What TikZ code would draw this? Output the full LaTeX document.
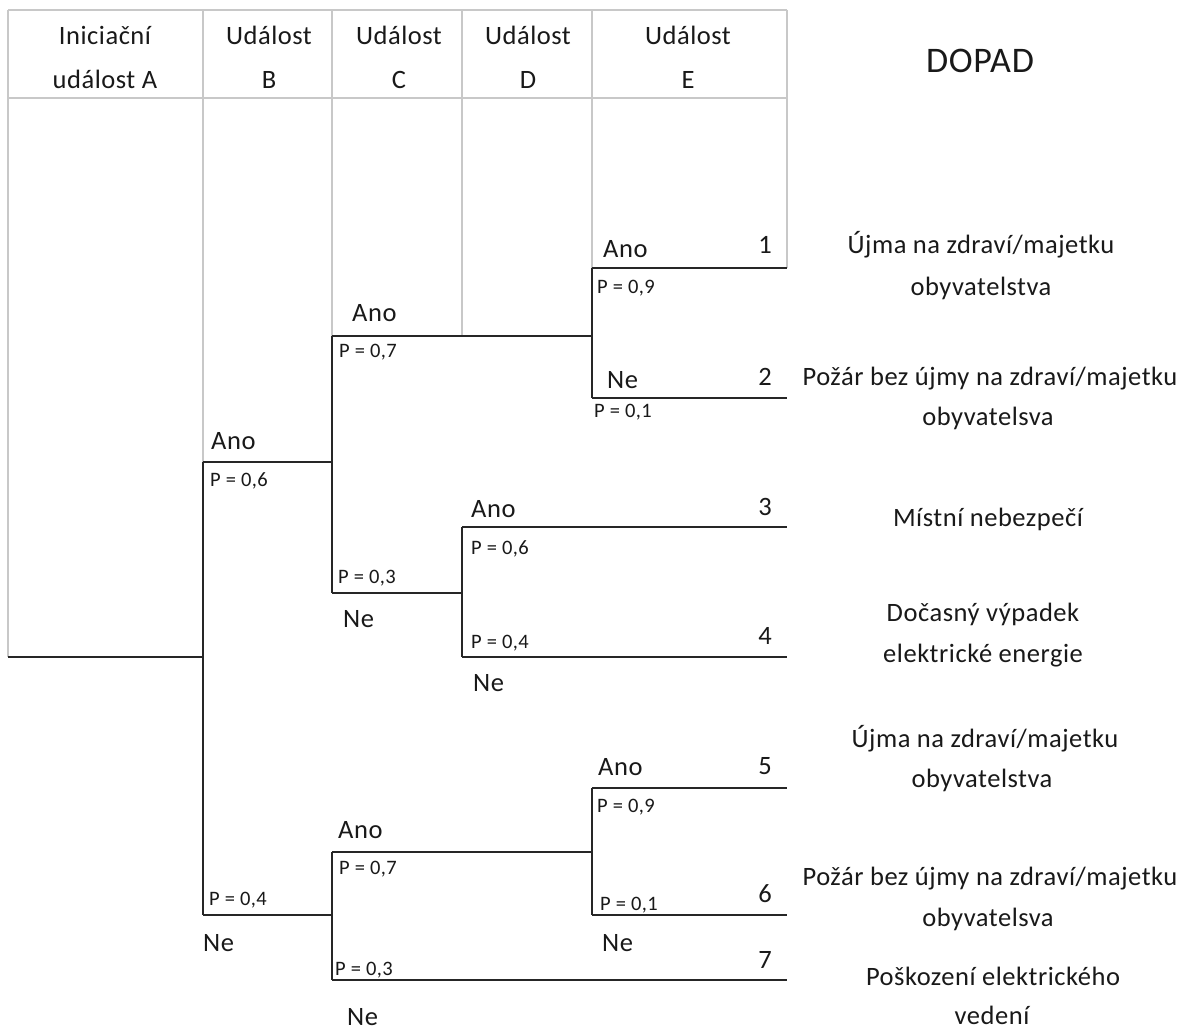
\documentclass[tikz,border=0pt]{standalone}
\usepackage{fontspec}
\setmainfont{Carlito}[LetterSpace=2]
\begin{document}
\begin{tikzpicture}[x=1pt,y=-1pt,
  grid/.style={draw=gridgray,line width=1.6pt},
  tree/.style={draw=black!85,line width=1.8pt},
  big/.style={inner sep=0pt,font=\fontsize{26.5}{30}\selectfont,text=black!90},
  small/.style={inner sep=0pt,font=\fontsize{20.5}{22}\selectfont,text=black!90},
  huge/.style={inner sep=0pt,font=\fontsize{36}{40}\selectfont,text=black!90}]
\definecolor{gridgray}{RGB}{200,200,200}
\useasboundingbox[fill=white] (0,0) rectangle (1179,1030);
% grid coordinates
\coordinate (g1) at (8,10);   \coordinate (g2) at (787,10);
\coordinate (h1) at (8,98);   \coordinate (h2) at (787,98);
\coordinate (cB) at (203,10); \coordinate (cC) at (332,10);
\coordinate (cD) at (462,10); \coordinate (cE) at (592,10);
% tree coordinates
\coordinate (A0) at (8,657);   \coordinate (A1) at (203,657);
\coordinate (Bt) at (203,462); \coordinate (Bb) at (203,915);
\coordinate (BA) at (332,462); \coordinate (BN) at (332,915);
\coordinate (Ct) at (332,336); \coordinate (Cb) at (332,593);
\coordinate (CA) at (592,336); \coordinate (CN) at (462,593);
\coordinate (Et) at (592,268); \coordinate (Eb) at (592,398);
\coordinate (E1) at (787,268); \coordinate (E2) at (787,398);
\coordinate (Dt) at (462,527); \coordinate (Db) at (462,657);
\coordinate (E3) at (787,527); \coordinate (E4) at (787,657);
\coordinate (Lt) at (332,852); \coordinate (Lb) at (332,980);
\coordinate (LA) at (592,852);
\coordinate (Mt) at (592,788); \coordinate (Mb) at (592,915);
\coordinate (E5) at (787,788); \coordinate (E6) at (787,915);
\coordinate (E7) at (787,980);
\coordinate (dD) at (462,336);
% grey grid
\draw[grid] (g1) -- (g2);
\draw[grid] (h1) -- (h2);
\draw[grid] (g1) -- (A0);
\draw[grid] (cB) -- (Bt);
\draw[grid] (cC) -- (Ct);
\draw[grid] (cD) -- (dD);
\draw[grid] (cE) -- (Et);
\draw[grid] (g2) -- (E1);
% tree
\draw[tree] (A0) -- (A1);
\draw[tree] (Bt) -- (Bb);
\draw[tree] (Bt) -- (BA);
\draw[tree] (Bb) -- (BN);
\draw[tree] (Ct) -- (Cb);
\draw[tree] (Ct) -- (CA);
\draw[tree] (Cb) -- (CN);
\draw[tree] (Et) -- (Eb);
\draw[tree] (Et) -- (E1);
\draw[tree] (Eb) -- (E2);
\draw[tree] (Dt) -- (Db);
\draw[tree] (Dt) -- (E3);
\draw[tree] (Db) -- (E4);
\draw[tree] (Lt) -- (Lb);
\draw[tree] (Lt) -- (LA);
\draw[tree] (Lb) -- (E7);
\draw[tree] (Mt) -- (Mb);
\draw[tree] (Mt) -- (E5);
\draw[tree] (Mb) -- (E6);
% headers
\node[big,anchor=base] (hA1) at (105,45) {Iniciační};
\node[big,anchor=base] (hA2) at (105,89) {událost A};
\node[big,anchor=base] (hB1) at (269,45) {Událost};
\node[big,anchor=base] (hB2) at (269,89) {B};
\node[big,anchor=base] (hC1) at (399,45) {Událost};
\node[big,anchor=base] (hC2) at (399,89) {C};
\node[big,anchor=base] (hD1) at (528,45) {Událost};
\node[big,anchor=base] (hD2) at (528,89) {D};
\node[big,anchor=base] (hE1) at (688,45) {Událost};
\node[big,anchor=base] (hE2) at (688,89) {E};
\node[huge,anchor=base] (dop) at (980,73) {DOPAD};
% branch labels
\node[big,anchor=base west] (l1) at (211,449) {Ano};
\node[small,anchor=base west] (p1) at (210,486) {P = 0,6};
\node[small,anchor=base west] (p2) at (209,905) {P = 0,4};
\node[big,anchor=base west] (l2) at (203,951) {Ne};
\node[big,anchor=base west] (l3) at (352,321) {Ano};
\node[small,anchor=base west] (p3) at (339,357) {P = 0,7};
\node[small,anchor=base west] (p4) at (338,583) {P = 0,3};
\node[big,anchor=base west] (l4) at (343,627) {Ne};
\node[big,anchor=base west] (l5) at (471,517) {Ano};
\node[small,anchor=base west] (p5) at (471,554) {P = 0,6};
\node[small,anchor=base west] (p6) at (471,648) {P = 0,4};
\node[big,anchor=base west] (l6) at (473,691) {Ne};
\node[big,anchor=base west] (l7) at (603,258) {Ano};
\node[small,anchor=base west] (p7) at (597,293) {P = 0,9};
\node[big,anchor=base west] (l8) at (607,388) {Ne};
\node[small,anchor=base west] (p8) at (594,417) {P = 0,1};
\node[big,anchor=base west] (l9) at (338,838) {Ano};
\node[small,anchor=base west] (p9) at (339,874) {P = 0,7};
\node[small,anchor=base west] (p10) at (335,975) {P = 0,3};
\node[big,anchor=base west] (l10) at (347,1025) {Ne};
\node[big,anchor=base west] (l11) at (598,775) {Ano};
\node[small,anchor=base west] (p11) at (597,812) {P = 0,9};
\node[small,anchor=base west] (p12) at (600,910) {P = 0,1};
\node[big,anchor=base west] (l12) at (602,951) {Ne};
% outcome numbers
\node[big,anchor=base east] (n1) at (772,254) {1};
\node[big,anchor=base east] (n2) at (772,385) {2};
\node[big,anchor=base east] (n3) at (772,515) {3};
\node[big,anchor=base east] (n4) at (772,644) {4};
\node[big,anchor=base east] (n5) at (772,774) {5};
\node[big,anchor=base east] (n6) at (772,902) {6};
\node[big,anchor=base east] (n7) at (772,968) {7};
% outcomes
\node[big,anchor=base] (o1a) at (981,254) {Újma na zdraví/majetku};
\node[big,anchor=base] (o1b) at (981,295) {obyvatelstva};
\node[big,anchor=base] (o2a) at (990,385) {Požár bez újmy na zdraví/majetku};
\node[big,anchor=base] (o2b) at (988,425) {obyvatelsva};
\node[big,anchor=base] (o3) at (988,526) {Místní nebezpečí};
\node[big,anchor=base] (o4a) at (983,621) {Dočasný výpadek};
\node[big,anchor=base] (o4b) at (983,662) {elektrické energie};
\node[big,anchor=base] (o5a) at (985,747) {Újma na zdraví/majetku};
\node[big,anchor=base] (o5b) at (982,787) {obyvatelstva};
\node[big,anchor=base] (o6a) at (990,885) {Požár bez újmy na zdraví/majetku};
\node[big,anchor=base] (o6b) at (988,926) {obyvatelsva};
\node[big,anchor=base] (o7a) at (993,985) {Poškození elektrického};
\node[big,anchor=base] (o7b) at (992,1024) {vedení};
\end{tikzpicture}
\end{document}
